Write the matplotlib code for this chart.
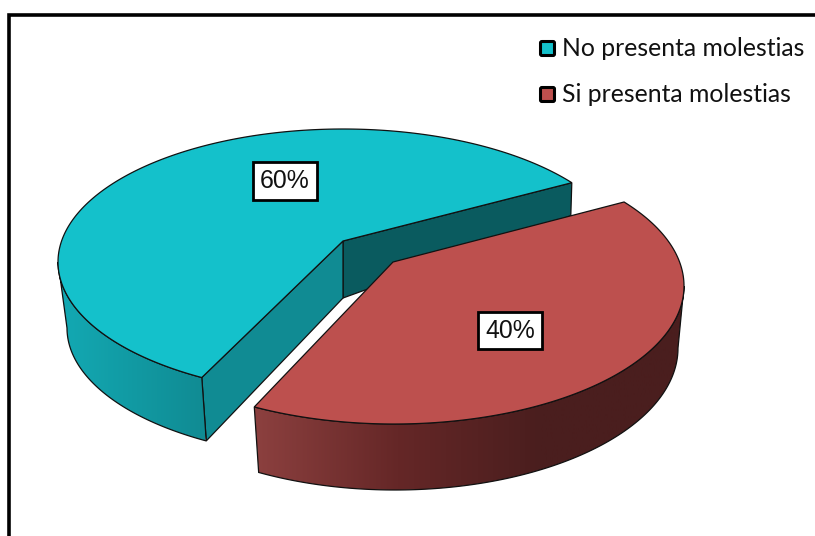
import numpy as np
import matplotlib
matplotlib.use("Agg")
import matplotlib.pyplot as plt
from matplotlib.colors import LinearSegmentedColormap
from matplotlib.patches import FancyBboxPatch, Polygon

categories = ["No presenta molestias", "Si presenta molestias"]
shares = [60, 40]

# the chart is tilted, so the rim angles are pulled a bit from the true sweep
start_angle = -36.6
perspective_skew = 12.3
red_shift = -0.9

EDGE = "#111111"
TEAL_TOP = "#14C1CB"
RED_TOP = "#BD504E"


def rim(center, radii, angles):
    t = np.radians(angles)
    return np.column_stack([center[0] + radii[0] * np.cos(t), center[1] + radii[1] * np.sin(t)])


def gradient_wall(ax, points, colors, x0, x1, z=2):
    wall = Polygon(points, closed=True, facecolor="none", edgecolor=EDGE, lw=0.9, zorder=z + 0.1)
    ax.add_patch(wall)
    cmap = LinearSegmentedColormap.from_list("wall", colors)
    img = ax.imshow(np.linspace(0, 1, 256).reshape(1, -1), cmap=cmap, extent=(x0, x1, 536, 0),
                    aspect="auto", zorder=z)
    img.set_clip_path(wall)


fig = plt.figure(figsize=(8.15, 5.36), dpi=100)
ax = fig.add_axes([0, 0, 1, 1])

split_angle = start_angle - 360 * shares[0] / sum(shares) + perspective_skew

# teal slice, drawn first since the red one sits in front of it
apex = np.array([343, 241])
top_c, top_r = (343, 262), (285, 133)
low_c, low_r = (343, 328), (276, 130)
tip_back = rim(top_c, top_r, [start_angle])[0]
tip_front = rim(top_c, top_r, [split_angle])[0]
low_front = rim(low_c, low_r, [split_angle])[0]
apex_low = apex + [0, 57]
back_low = tip_back + [-1, 33]

ax.add_patch(Polygon([apex, tip_back, back_low, apex_low], closed=True, facecolor="#0A5B5F",
                     edgecolor=EDGE, lw=0.9, zorder=1.5))
ax.add_patch(Polygon([apex, tip_front, low_front, apex_low], closed=True, facecolor="#108B93",
                     edgecolor=EDGE, lw=0.9, zorder=1.6))
outer_top = rim(top_c, top_r, np.linspace(-180, split_angle, 80))
outer_low = rim(low_c, low_r, np.linspace(split_angle, -180, 80))
gradient_wall(ax, np.vstack([outer_top, outer_low]), ["#13A9B3", "#108B93"], 60, 205)
top_rim = rim(top_c, top_r, np.linspace(start_angle, split_angle, 200))
ax.add_patch(Polygon(np.vstack([apex, top_rim]), closed=True, facecolor=TEAL_TOP, edgecolor=EDGE,
                     lw=0.9, zorder=4))

# red slice
apex = np.array([393, 262])
top_c, top_r = (394, 286), (290, 138)
low_c, low_r = (395, 348), (283, 142)
red_front = split_angle + red_shift
red_back = start_angle + red_shift - 360
outer_top = rim(top_c, top_r, np.linspace(red_front, -360, 120))
outer_low = rim(low_c, low_r, np.linspace(-360, red_front, 120))
gradient_wall(ax, np.vstack([outer_top, outer_low]),
              ["#8C403F", "#652727", "#4A1E1E", "#4A1E1E"], 255, 684, z=4.5)
top_rim = rim(top_c, top_r, np.linspace(red_front, red_back, 200))
ax.add_patch(Polygon(np.vstack([apex, top_rim]), closed=True, facecolor=RED_TOP, edgecolor=EDGE,
                     lw=0.9, zorder=5))

# value labels
label_pos = [(285, 181), (510, 330.5)]
for share, (x, y) in zip(shares, label_pos):
    ax.text(x, y, f"{share}%", fontsize=17.8, family="Liberation Sans", color="#111111", ha="center",
            va="center", zorder=7,
            bbox=dict(boxstyle="square,pad=0.28", facecolor="white", edgecolor="black", lw=2.0))

# legend
legend_colors = [TEAL_TOP, RED_TOP]
legend_y = [48.5, 94.5]
for name, color, y in zip(categories, legend_colors, legend_y):
    ax.add_patch(FancyBboxPatch((540.5, y - 7), 14, 14, boxstyle="round,pad=0,rounding_size=1.5",
                                facecolor=color, edgecolor="black", lw=2.2, zorder=6))
    ax.text(562.5, y, name, fontsize=17.8, family="Lato", color="#111111", va="center", zorder=6)

# frame, only the left and top lines fall inside the picture
ax.plot([9, 9, 815], [536, 14.5, 14.5], color="black", lw=2.6, solid_joinstyle="miter", zorder=8)

ax.set_xlim(0, 815)
ax.set_ylim(536, 0)
ax.axis("off")
fig.savefig("out.png", dpi=100)
